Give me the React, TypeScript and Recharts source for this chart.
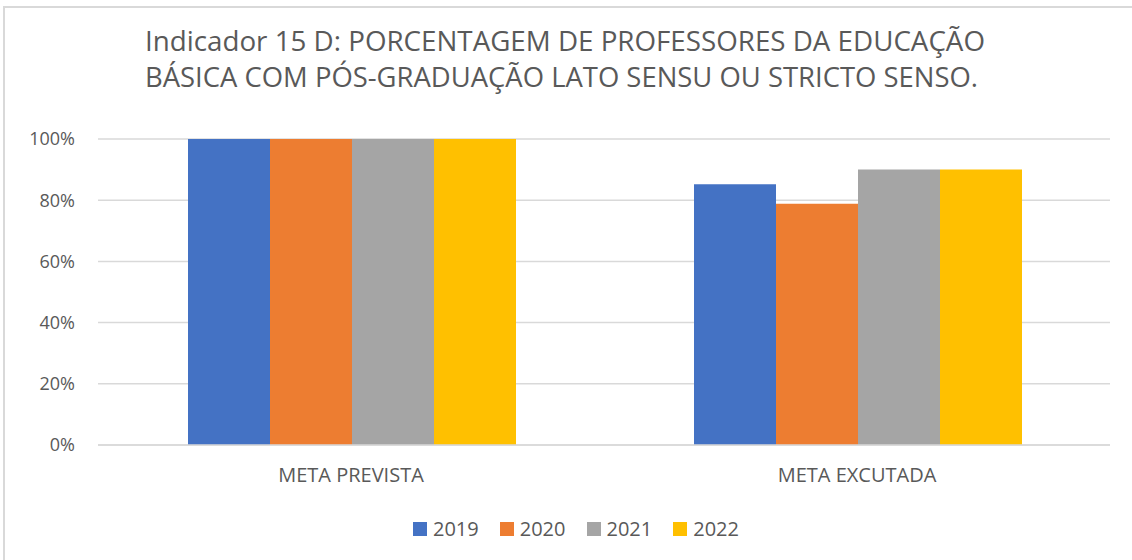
import { BarChart, Bar, XAxis, YAxis, CartesianGrid, Legend } from "recharts";

const CATEGORIES = ["META PREVISTA", "META EXCUTADA"];
const SERIES = ["2019", "2020", "2021", "2022"];
const COLORS = ["#4472C4", "#ED7D31", "#A5A5A5", "#FFC000"];

const V2019 = [1.0, 0.852];
const V2020 = [1.0, 0.788];
const V2021 = [1.0, 0.9];
const V2022 = [1.0, 0.9];

const Y_TICKS = [0, 0.2, 0.4, 0.6, 0.8, 1.0];

const TITLE_1 = "Indicador 15 D: PORCENTAGEM DE PROFESSORES DA EDUCAÇÃO";
const TITLE_2 = "BÁSICA COM PÓS-GRADUAÇÃO LATO SENSU OU STRICTO SENSO.";

const FONT = "'Open Sans', 'Liberation Sans', sans-serif";
const GREY_TEXT = "#595959";

const data = CATEGORIES.map((c, i) => ({
  name: c,
  "2019": V2019[i],
  "2020": V2020[i],
  "2021": V2021[i],
  "2022": V2022[i],
}));

function LegendBox() {
  return (
    <div
      style={{
        display: "flex",
        justifyContent: "center",
        gap: 21,
        fontFamily: FONT,
        fontSize: 20,
        color: GREY_TEXT,
      }}
    >
      {SERIES.map((s, i) => (
        <div key={s} style={{ display: "flex", alignItems: "center" }}>
          <span
            style={{
              display: "inline-block",
              width: 14,
              height: 14,
              background: COLORS[i],
              marginRight: 6,
            }}
          />
          <span>{s}</span>
        </div>
      ))}
    </div>
  );
}

export default function App() {
  return (
    <div
      style={{
        position: "absolute",
        left: 0,
        top: 0,
        width: 1132,
        height: 560,
        background: "#fff",
        overflow: "hidden",
      }}
    >
      <div
        style={{
          position: "absolute",
          left: 3,
          top: 6,
          width: 1200,
          height: 600,
          borderLeft: "2px solid #d9d9d9",
          borderTop: "2px solid #d9d9d9",
        }}
      />
      <svg
        width={1132}
        height={110}
        style={{ position: "absolute", left: 0, top: 0 }}
      >
        <text
          x={145}
          y={51}
          fontFamily={FONT}
          fontSize={27}
          fill={GREY_TEXT}
          textLength={840}
          lengthAdjust="spacingAndGlyphs"
        >
          {TITLE_1}
        </text>
        <text
          x={145}
          y={87}
          fontFamily={FONT}
          fontSize={27}
          fill={GREY_TEXT}
          textLength={833}
          lengthAdjust="spacingAndGlyphs"
        >
          {TITLE_2}
        </text>
      </svg>
      <div style={{ position: "absolute", left: 0, top: 0 }}>
        <BarChart
          width={1132}
          height={560}
          data={data}
          margin={{ top: 139, right: 22, left: 0, bottom: 10 }}
          barCategoryGap={90}
          barGap={0}
        >
          <CartesianGrid vertical={false} stroke="#d9d9d9" strokeWidth={1.5} />
          <XAxis
            dataKey="name"
            tickLine={false}
            axisLine={{ stroke: "#d9d9d9", strokeWidth: 1.5 }}
            tickSize={0}
            tickMargin={23}
            height={78}
            tick={{ fill: GREY_TEXT, fontSize: 20, fontFamily: FONT }}
          />
          <YAxis
            width={98}
            domain={[0, 1]}
            ticks={Y_TICKS}
            tickFormatter={(v: number) => `${Math.round(v * 100)}%`}
            axisLine={false}
            tickLine={false}
            tickSize={0}
            tickMargin={23}
            tick={{ fill: GREY_TEXT, fontSize: 18, fontFamily: FONT }}
          />
          <Legend
            content={() => <LegendBox />}
            wrapperStyle={{ position: "absolute", left: 0, top: 515, width: 1152 }}
          />
          {SERIES.map((s, i) => (
            <Bar key={s} dataKey={s} fill={COLORS[i]} isAnimationActive={false} />
          ))}
        </BarChart>
      </div>
    </div>
  );
}
